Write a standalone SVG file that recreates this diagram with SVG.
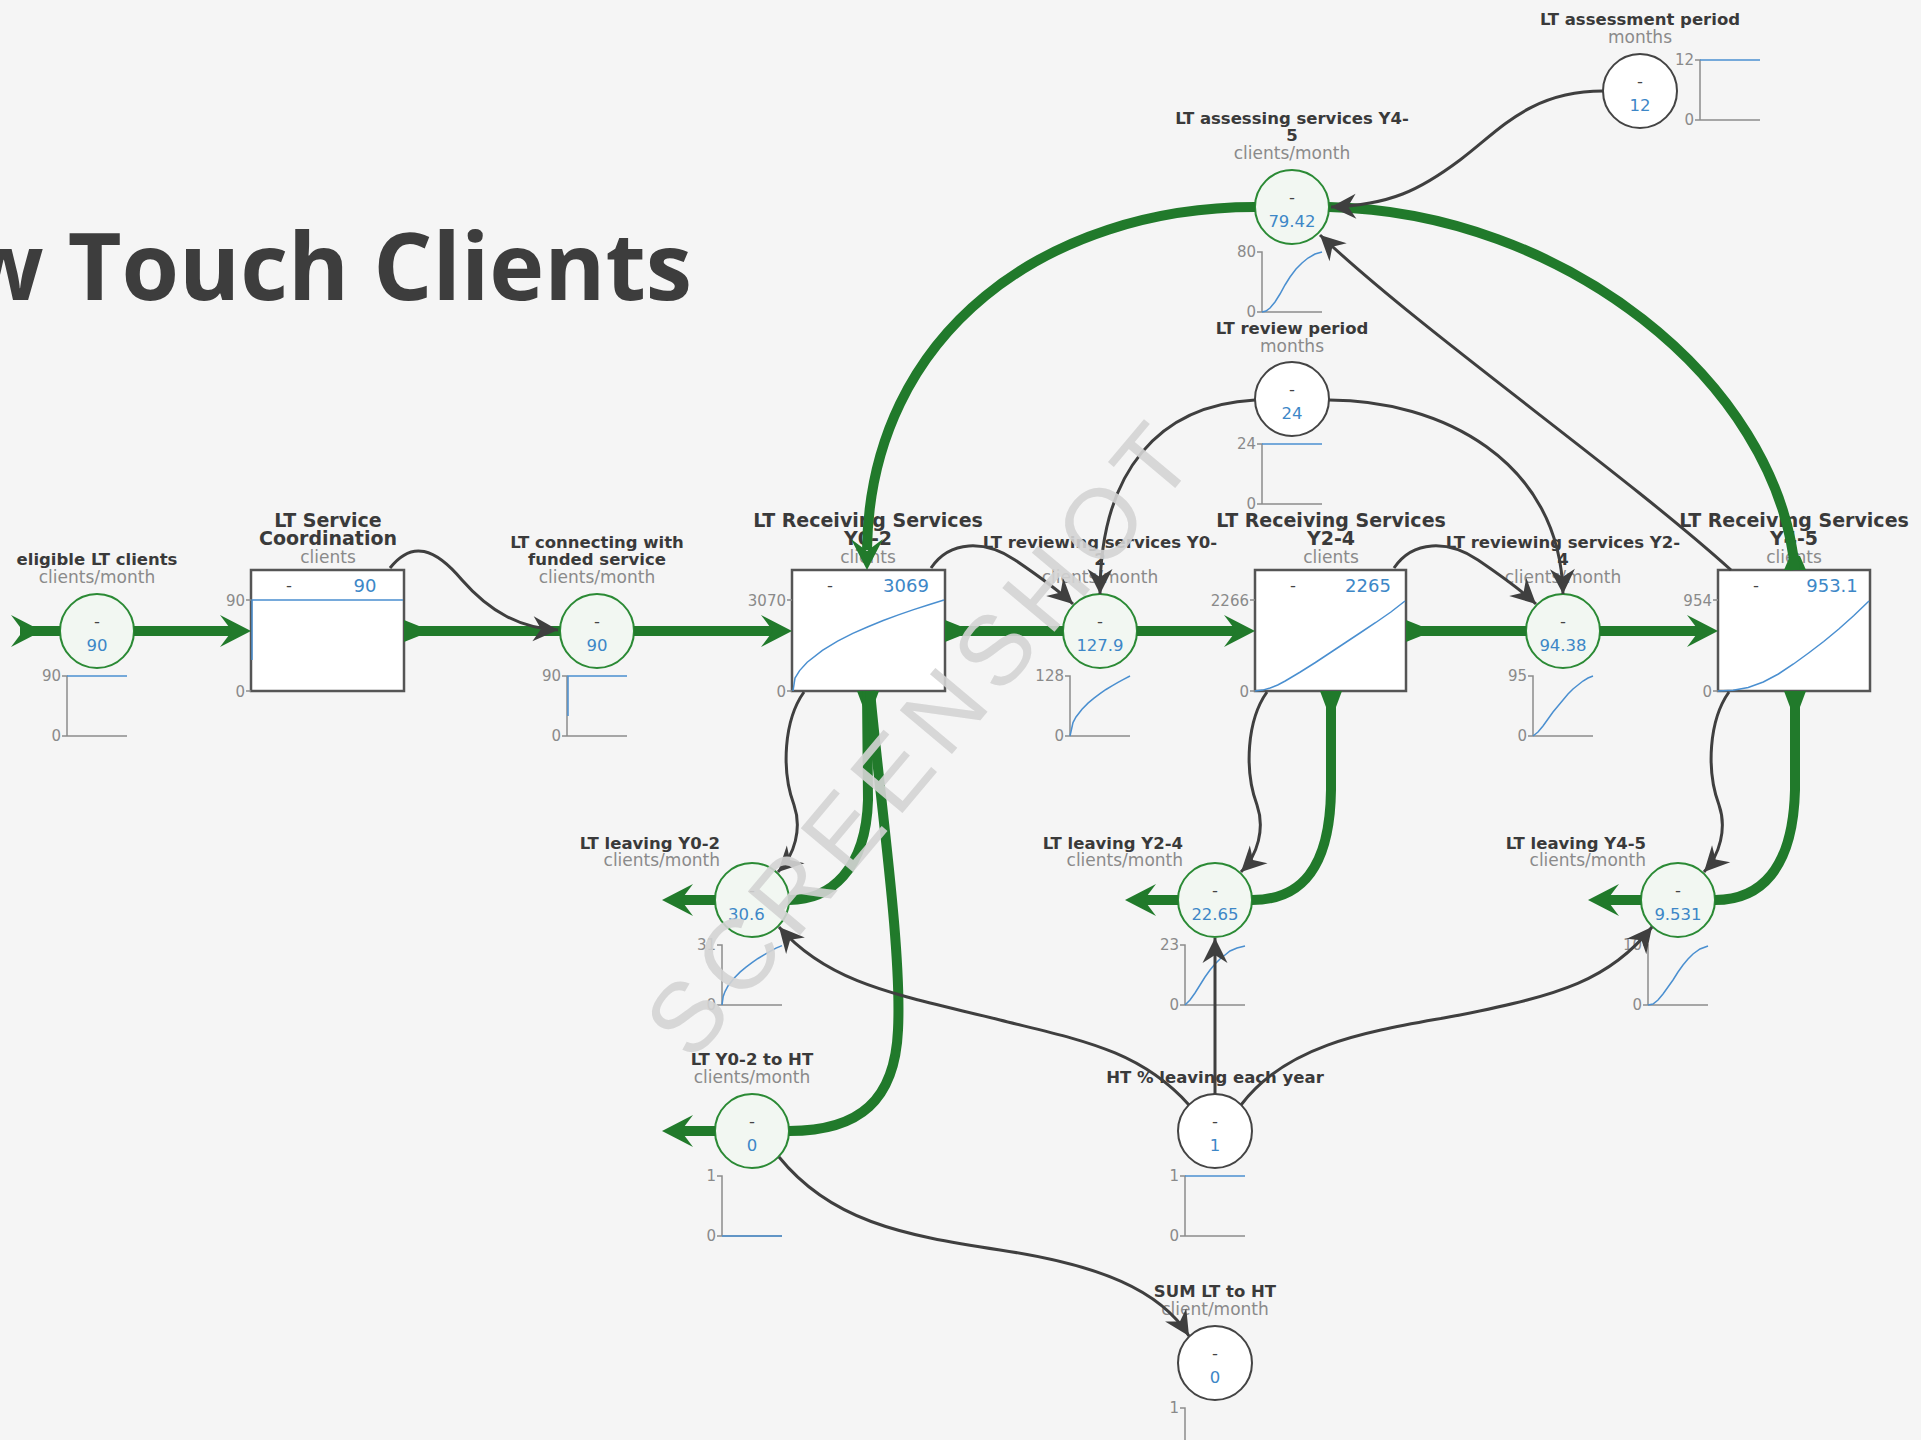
<svg xmlns="http://www.w3.org/2000/svg" xmlns:xlink="http://www.w3.org/1999/xlink" width="1921" height="1440" viewBox="0 0 1921 1440">
<style>
.nm{font-family:"DejaVu Sans",sans-serif;font-weight:bold;font-size:16.5px;fill:#3a3a3a;text-anchor:middle}
.snm{font-size:19px}
.un{font-family:"DejaVu Sans",sans-serif;font-size:17px;fill:#8a8a8a;text-anchor:middle}
.end{text-anchor:end}
.val{font-family:"DejaVu Sans",sans-serif;font-size:16.5px;fill:#3d87c7;text-anchor:middle}
.sval{font-size:18px}
.dash{font-family:"DejaVu Sans",sans-serif;font-size:16.5px;fill:#444;text-anchor:middle}
.ax{stroke:#8c8c8c;stroke-width:1.5;fill:none}
.axl{font-family:"DejaVu Sans",sans-serif;font-size:15px;fill:#8a8a8a;text-anchor:end}
.ser{stroke:#4a8fd0;stroke-width:1.5;fill:none}
.flowc{fill:#f2f7f2;stroke:#2b8a35;stroke-width:2}
.auxc{fill:#fff;stroke:#444;stroke-width:2}
.stock{fill:#fff;stroke:#555;stroke-width:2.5}
.pipe{stroke:#217a2b;stroke-width:10;fill:none}
.gf{fill:#217a2b}
.link{stroke:#3f3f3f;stroke-width:3;fill:none;marker-end:url(#ah)}
.title{font-family:"Open Sans",sans-serif;font-weight:bold;font-size:93px;fill:#3d3d3d;text-anchor:end}
.wm{font-family:"Liberation Sans",sans-serif;font-size:99px;letter-spacing:11px;fill:#d4d4d4;opacity:0.9;text-anchor:middle;dominant-baseline:central}
</style>
<defs>
<path id="ga" d="M0,0 L-31,-16 L-19,0 L-31,16 Z"/>
<marker id="ah" markerUnits="userSpaceOnUse" markerWidth="34" markerHeight="34" viewBox="-30 -17 34 34" refX="0" refY="0" orient="auto">
<path d="M0,0 L-25,-12.5 L-17,0 L-25,12.5 Z" fill="#3f3f3f"/>
</marker>
</defs>
<rect x="0" y="0" width="1921" height="1440" fill="#f5f5f5"/>
<text class="title" x="692" y="300">w Touch Clients</text>

<g id="nodes">
<g id="eligible">
<text class="nm" x="97" y="565">eligible LT clients</text>
<text class="un" x="97" y="583">clients/month</text>
<circle class="flowc" cx="97" cy="631" r="37"/>
<text class="dash" x="97" y="627">-</text>
<text class="val" x="97" y="651">90</text>
<path class="ax" d="M62,676 L67,676 L67,736 L127,736 M62,736 L67,736"/>
<path class="ser" d="M67,676 L127,676"/>
<text class="axl" x="61" y="681">90</text><text class="axl" x="61" y="741">0</text>
</g>

<g id="coordination">
<text class="nm snm" x="328" y="527">LT Service</text>
<text class="nm snm" x="328" y="544.5">Coordination</text>
<text class="un" x="328" y="562.5">clients</text>
<rect class="stock" x="251" y="570" width="153" height="121"/>
<text class="dash" x="289" y="591">-</text>
<text class="val sval" x="365" y="592">90</text>
<path class="ax" d="M246,600 L251,600 M246,691 L251,691"/>
<path class="ser" d="M252,660 L252,600 L403,600"/>
<text class="axl" x="245" y="605.5">90</text><text class="axl" x="245" y="696.5">0</text>
</g>

<g id="connecting">
<text class="nm" x="597" y="547.5">LT connecting with</text>
<text class="nm" x="597" y="565">funded service</text>
<text class="un" x="597" y="583">clients/month</text>
<circle class="flowc" cx="597" cy="631" r="37"/>
<text class="dash" x="597" y="627">-</text>
<text class="val" x="597" y="651">90</text>
<path class="ax" d="M562,676 L567,676 L567,736 L627,736 M562,736 L567,736"/>
<path class="ser" d="M568,716 L568,676 L627,676"/>
<text class="axl" x="561" y="681">90</text><text class="axl" x="561" y="741">0</text>
</g>

<g id="receiving-y02">
<text class="nm snm" x="868" y="527">LT Receiving Services</text>
<text class="nm snm" x="868" y="544.5">Y0-2</text>
<text class="un" x="868" y="562.5">clients</text>
<rect class="stock" x="792" y="570" width="153" height="121"/>
<text class="dash" x="830" y="591">-</text>
<text class="val sval" x="906" y="592">3069</text>
<path class="ax" d="M787,600 L792,600 M787,691 L792,691"/>
<path class="ser" d="M793,691 L795,678.1 L799.6,670.6 L807.2,662.2 L822.4,650.3 L837.6,641.2 L852.8,633.4 L868,626.7 L883.2,620.5 L898.4,614.9 L913.6,609.6 L928.8,604.7 L944,600"/>
<text class="axl" x="786" y="605.5">3070</text><text class="axl" x="786" y="696.5">0</text>
</g>

<g id="reviewing-y02">
<text class="nm" x="1100" y="547.5">LT reviewing services Y0-</text>
<text class="nm" x="1100" y="565">2</text>
<text class="un" x="1100" y="583">clients/month</text>
<circle class="flowc" cx="1100" cy="631" r="37"/>
<text class="dash" x="1100" y="627">-</text>
<text class="val" x="1100" y="651">127.9</text>
<path class="ax" d="M1065,676 L1070,676 L1070,736 L1130,736 M1065,736 L1070,736"/>
<path class="ser" d="M1070,736 L1073,722.6 L1076,717 L1082,709.2 L1088,703.1 L1094,698.1 L1100,693.6 L1106,689.5 L1112,685.8 L1118,682.4 L1124,679.1 L1130,676"/>
<text class="axl" x="1064" y="681">128</text><text class="axl" x="1064" y="741">0</text>
</g>

<g id="receiving-y24">
<text class="nm snm" x="1331" y="527">LT Receiving Services</text>
<text class="nm snm" x="1331" y="544.5">Y2-4</text>
<text class="un" x="1331" y="562.5">clients</text>
<rect class="stock" x="1255" y="570" width="151" height="121"/>
<text class="dash" x="1293" y="591">-</text>
<text class="val sval" x="1368" y="592">2265</text>
<path class="ax" d="M1250,600 L1255,600 M1250,691 L1255,691"/>
<path class="ser" d="M1255,691 L1262.6,690.1 L1270.1,688 L1277.7,685 L1285.2,681 L1300.3,672 L1315.4,662.5 L1330.5,652.5 L1345.6,642.5 L1360.7,632.5 L1375.8,622.5 L1390.9,612 L1405,601"/>
<text class="axl" x="1249" y="605.5">2266</text><text class="axl" x="1249" y="696.5">0</text>
</g>

<g id="reviewing-y24">
<text class="nm" x="1563" y="547.5">LT reviewing services Y2-</text>
<text class="nm" x="1563" y="565">4</text>
<text class="un" x="1563" y="583">clients/month</text>
<circle class="flowc" cx="1563" cy="631" r="37"/>
<text class="dash" x="1563" y="627">-</text>
<text class="val" x="1563" y="651">94.38</text>
<path class="ax" d="M1528,676 L1533,676 L1533,736 L1593,736 M1528,736 L1533,736"/>
<path class="ser" d="M1533,736 L1538,732 L1543,726 L1548,719 L1553,712 L1558,706 L1563,700 L1568,694 L1573,689 L1578,685 L1583,681 L1588,678 L1593,676"/>
<text class="axl" x="1527" y="681">95</text><text class="axl" x="1527" y="741">0</text>
</g>

<g id="receiving-y45">
<text class="nm snm" x="1794" y="527">LT Receiving Services</text>
<text class="nm snm" x="1794" y="544.5">Y4-5</text>
<text class="un" x="1794" y="562.5">clients</text>
<rect class="stock" x="1718" y="570" width="152" height="121"/>
<text class="dash" x="1756" y="591">-</text>
<text class="val sval" x="1832" y="592">953.1</text>
<path class="ax" d="M1713,600 L1718,600 M1713,691 L1718,691"/>
<path class="ser" d="M1718,691 L1733.1,690.3 L1748.2,687.5 L1763.3,682 L1778.4,674 L1793.5,664 L1808.6,653 L1823.7,641.5 L1838.8,629 L1853.9,615.5 L1869,601"/>
<text class="axl" x="1712" y="605.5">954</text><text class="axl" x="1712" y="696.5">0</text>
</g>

<g id="assessing-y45">
<text class="nm" x="1292" y="123.5">LT assessing services Y4-</text>
<text class="nm" x="1292" y="141">5</text>
<text class="un" x="1292" y="159">clients/month</text>
<circle class="flowc" cx="1292" cy="207" r="37"/>
<text class="dash" x="1292" y="203">-</text>
<text class="val" x="1292" y="227">79.42</text>
<path class="ax" d="M1257,252 L1262,252 L1262,312 L1322,312 M1257,312 L1262,312"/>
<path class="ser" d="M1262,312 L1266,311 L1270,308 L1275,302 L1280,294 L1285,285 L1290,277 L1296,269 L1302,263 L1308,258 L1315,254 L1322,252"/>
<text class="axl" x="1256" y="257">80</text><text class="axl" x="1256" y="317">0</text>
</g>

<g id="assessment-period">
<text class="nm" x="1640" y="25">LT assessment period</text>
<text class="un" x="1640" y="43">months</text>
<circle class="auxc" cx="1640" cy="91" r="37"/>
<text class="dash" x="1640" y="87">-</text>
<text class="val" x="1640" y="111">12</text>
<path class="ax" d="M1695,60 L1700,60 L1700,120 L1760,120 M1695,120 L1700,120"/>
<path class="ser" d="M1700,60 L1760,60"/>
<text class="axl" x="1694" y="65">12</text><text class="axl" x="1694" y="125">0</text>
</g>

<g id="review-period">
<text class="nm" x="1292" y="334">LT review period</text>
<text class="un" x="1292" y="352">months</text>
<circle class="auxc" cx="1292" cy="399" r="37"/>
<text class="dash" x="1292" y="395">-</text>
<text class="val" x="1292" y="419">24</text>
<path class="ax" d="M1257,444 L1262,444 L1262,504 L1322,504 M1257,504 L1262,504"/>
<path class="ser" d="M1262,444 L1322,444"/>
<text class="axl" x="1256" y="449">24</text><text class="axl" x="1256" y="509">0</text>
</g>

<g id="leaving-y02">
<text class="nm end" x="720" y="849">LT leaving Y0-2</text>
<text class="un end" x="720" y="866">clients/month</text>
<circle class="flowc" cx="752" cy="900" r="37"/>
<text class="dash" x="752" y="896">-</text>
<text class="val" x="728" y="920" style="text-anchor:start">30.6</text>
<path class="ax" d="M717,945 L722,945 L722,1005 L782,1005 M717,1005 L722,1005"/>
<path class="ser" d="M722,1005 L723.2,996.5 L725,991.6 L728,986 L734,978.2 L740,972.1 L746,967.1 L752,962.6 L758,958.5 L764,954.8 L770,951.4 L776,948.1 L782,945.6"/>
<text class="axl" x="716" y="950">31</text><text class="axl" x="716" y="1010">0</text>
</g>

<g id="leaving-y24">
<text class="nm end" x="1183" y="849">LT leaving Y2-4</text>
<text class="un end" x="1183" y="866">clients/month</text>
<circle class="flowc" cx="1215" cy="900" r="37"/>
<text class="dash" x="1215" y="896">-</text>
<text class="val" x="1215" y="920">22.65</text>
<path class="ax" d="M1180,945 L1185,945 L1185,1005 L1245,1005 M1180,1005 L1185,1005"/>
<path class="ser" d="M1185,1005 L1190,1000 L1195,993 L1200,985 L1205,977 L1210,970 L1215,964 L1220,959 L1225,955 L1230,951 L1237,948 L1245,946"/>
<text class="axl" x="1179" y="950">23</text><text class="axl" x="1179" y="1010">0</text>
</g>

<g id="leaving-y45">
<text class="nm end" x="1646" y="849">LT leaving Y4-5</text>
<text class="un end" x="1646" y="866">clients/month</text>
<circle class="flowc" cx="1678" cy="900" r="37"/>
<text class="dash" x="1678" y="896">-</text>
<text class="val" x="1678" y="920">9.531</text>
<path class="ax" d="M1643,945 L1648,945 L1648,1005 L1708,1005 M1643,1005 L1648,1005"/>
<path class="ser" d="M1648,1005 L1653,1004 L1658,1000 L1663,994 L1668,987 L1673,980 L1678,972 L1683,965 L1688,959 L1693,954 L1700,949 L1708,946"/>
<text class="axl" x="1642" y="950">10</text><text class="axl" x="1642" y="1010">0</text>
</g>

<g id="y02-to-ht">
<text class="nm" x="752" y="1065">LT Y0-2 to HT</text>
<text class="un" x="752" y="1083">clients/month</text>
<circle class="flowc" cx="752" cy="1131" r="37"/>
<text class="dash" x="752" y="1127">-</text>
<text class="val" x="752" y="1151">0</text>
<path class="ax" d="M717,1176 L722,1176 L722,1236 L782,1236 M717,1236 L722,1236"/>
<path class="ser" d="M722,1236 L782,1236"/>
<text class="axl" x="716" y="1181">1</text><text class="axl" x="716" y="1241">0</text>
</g>

<g id="ht-pct-leaving">
<text class="nm" x="1215" y="1083">HT % leaving each year</text>
<circle class="auxc" cx="1215" cy="1131" r="37"/>
<text class="dash" x="1215" y="1127">-</text>
<text class="val" x="1215" y="1151">1</text>
<path class="ax" d="M1180,1176 L1185,1176 L1185,1236 L1245,1236 M1180,1236 L1185,1236"/>
<path class="ser" d="M1185,1176 L1245,1176"/>
<text class="axl" x="1179" y="1181">1</text><text class="axl" x="1179" y="1241">0</text>
</g>

<g id="sum-lt-to-ht">
<text class="nm" x="1215" y="1297">SUM LT to HT</text>
<text class="un" x="1215" y="1315">client/month</text>
<circle class="auxc" cx="1215" cy="1363" r="37"/>
<text class="dash" x="1215" y="1359">-</text>
<text class="val" x="1215" y="1383">0</text>
<path class="ax" d="M1180,1408 L1185,1408 L1185,1468"/>
<text class="axl" x="1179" y="1413">1</text>
</g>
</g>

<g id="connectors">
<path class="pipe" d="M20,631 L60,631 M134,631 L236,631"/>
<use href="#ga" class="gf" transform="translate(42,631)"/>
<use href="#ga" class="gf" transform="translate(251,631)"/>
<path class="gf" d="M404,620 L419,626 L419,636 L404,642 Z"/>
<path class="pipe" d="M404,631 L560,631 M634,631 L776,631"/>
<use href="#ga" class="gf" transform="translate(792,631)"/>
<path class="gf" d="M945,620 L960,626 L960,636 L945,642 Z"/>
<path class="pipe" d="M945,631 L1063,631 M1137,631 L1238,631"/>
<use href="#ga" class="gf" transform="translate(1255,631)"/>
<path class="gf" d="M1406,620 L1421,626 L1421,636 L1406,642 Z"/>
<path class="pipe" d="M1406,631 L1526,631 M1600,631 L1702,631"/>
<use href="#ga" class="gf" transform="translate(1718,631)"/>
<path class="gf" d="M1784,570 L1790,556 L1800,556 L1806,570 Z"/>
<path class="pipe" d="M1795,570 C1777,380 1562,212 1329,207"/>
<path class="pipe" d="M1255,207 C1050,207 870,330 867,550"/>
<use href="#ga" class="gf" transform="translate(867,570) rotate(90)"/>
<path class="gf" d="M857,691 L863,707 L873,707 L879,691 Z"/>
<path class="pipe" d="M867,691 L868,800 C866,870 830,900 789,900"/>
<path class="pipe" d="M870,691 C880,800 902,950 898,1030 C895,1100 860,1131 789,1131"/>
<path class="pipe" d="M715,900 L678,900 M715,1131 L678,1131"/>
<use href="#ga" class="gf" transform="translate(662,900) rotate(180)"/>
<use href="#ga" class="gf" transform="translate(662,1131) rotate(180)"/>
<path class="gf" d="M1320,691 L1326,707 L1336,707 L1342,691 Z"/>
<path class="pipe" d="M1331,691 L1331,790 C1330,870 1300,900 1252,900 M1178,900 L1141,900"/>
<use href="#ga" class="gf" transform="translate(1125,900) rotate(180)"/>
<path class="gf" d="M1784,691 L1790,707 L1800,707 L1806,691 Z"/>
<path class="pipe" d="M1795,691 L1795,790 C1793,870 1760,900 1715,900 M1641,900 L1604,900"/>
<use href="#ga" class="gf" transform="translate(1588,900) rotate(180)"/>
<path class="link" d="M390,568 C412,540 435,548 462,580 C490,612 520,628 558,630"/>
<path class="link" d="M931,568 C950,540 985,540 1015,560 C1040,577 1058,590 1073,604"/>
<path class="link" d="M1394,568 C1413,540 1448,540 1478,560 C1503,577 1521,590 1536,604"/>
<path class="link" d="M1255,400 C1160,405 1100,470 1100,594"/>
<path class="link" d="M1329,400 C1440,400 1560,460 1563,594"/>
<path class="link" d="M1731,570 C1620,470 1420,330 1320,235"/>
<path class="link" d="M1603,91 C1530,91 1500,130 1460,160 C1420,190 1390,205 1331,207"/>
<path class="link" d="M804,692 C784,720 781,770 794,805 C802,828 795,855 778,872"/>
<path class="link" d="M1267,692 C1247,720 1244,770 1257,805 C1265,828 1258,855 1241,872"/>
<path class="link" d="M1729,692 C1709,720 1706,770 1719,805 C1727,828 1720,855 1704,872"/>
<path class="link" d="M1189,1105 C1140,1050 1080,1040 1000,1020 C900,995 830,985 779,927"/>
<path class="link" d="M1215,1094 L1215,938"/>
<path class="link" d="M1241,1105 C1290,1040 1380,1030 1460,1015 C1560,995 1610,980 1652,927"/>
<path class="link" d="M779,1157 C830,1220 900,1235 1000,1250 C1100,1265 1160,1290 1189,1336"/>
</g>

<text class="wm" transform="translate(922,736) rotate(-50)">SCREENSHOT</text>
</svg>
